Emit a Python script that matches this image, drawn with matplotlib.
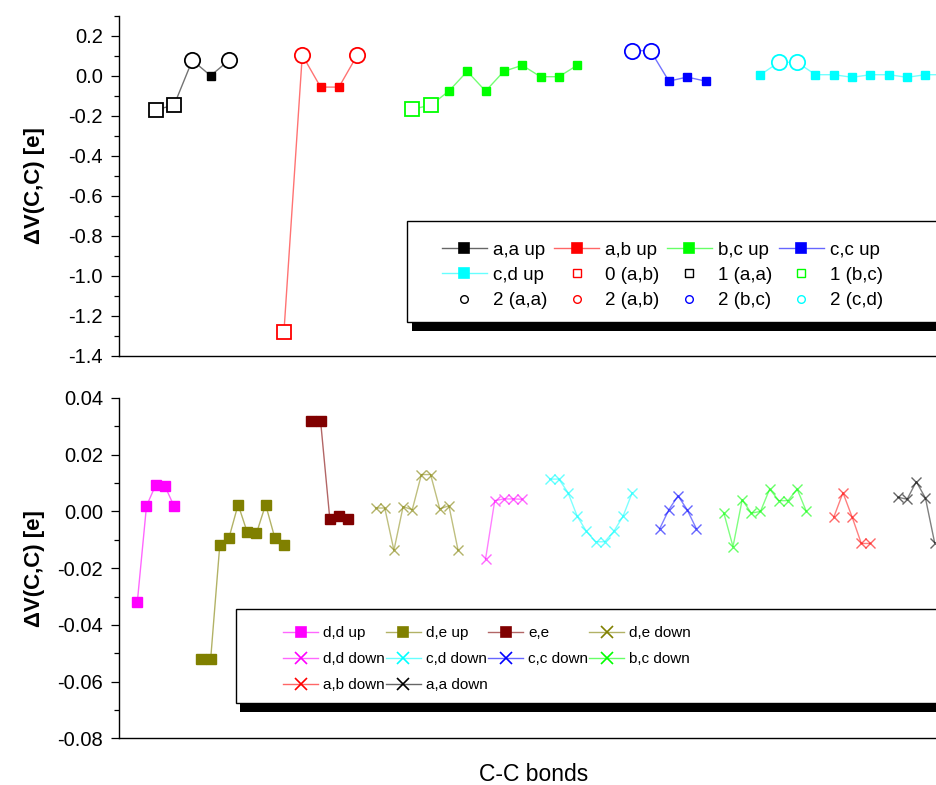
import matplotlib
matplotlib.use("Agg")
import matplotlib.pyplot as plt
from matplotlib.lines import Line2D
from matplotlib.patches import Rectangle
from matplotlib.colors import to_rgba
from matplotlib.ticker import MultipleLocator, FormatStrFormatter

plt.rcParams['font.family'] = ['Liberation Sans', 'DejaVu Sans']
plt.rcParams['axes.unicode_minus'] = False

# ---- top panel: "up" chains (bond index, dV) ----
aa_up_x = [2, 4, 6, 8, 10]
aa_up_y = [-0.170, -0.148, 0.077, 0.000, 0.077]
ab_up_x = [16, 18, 20, 22, 24]
ab_up_y = [-1.280, 0.103, -0.057, -0.057, 0.103]
bc_up_x = [30, 32, 34, 36, 38, 40, 42, 44, 46, 48]
bc_up_y = [-0.167, -0.148, -0.077, 0.022, -0.077, 0.022, 0.052, -0.005, -0.005, 0.052]
cc_up_x = [54, 56, 58, 60, 62]
cc_up_y = [0.125, 0.125, -0.027, -0.007, -0.027]
cd_up_x = [68, 70, 72, 74, 76, 78, 80, 82, 84, 86, 88]
cd_up_y = [0.005, 0.067, 0.067, 0.005, 0.005, -0.008, 0.005, 0.005, -0.008, 0.005, 0.005]

# open symbols
sq0_ab_x, sq0_ab_y = [16], [-1.280]
sq1_aa_x, sq1_aa_y = [2, 4], [-0.170, -0.148]
sq1_bc_x, sq1_bc_y = [30, 32], [-0.167, -0.148]
ci2_aa_x, ci2_aa_y = [6, 10], [0.077, 0.077]
ci2_ab_x, ci2_ab_y = [18, 24], [0.103, 0.103]
ci2_bc_x, ci2_bc_y = [54, 56], [0.125, 0.125]
ci2_cd_x, ci2_cd_y = [70, 72], [0.067, 0.067]

# ---- bottom panel ----
dd_up_x = [0, 1, 2, 3, 4]
dd_up_y = [-0.0319, 0.0019, 0.0093, 0.0090, 0.0019]
de_up_x = [7, 8, 9, 10, 11, 12, 13, 14, 15, 16]
de_up_y = [-0.0522, -0.0522, -0.0118, -0.0093, 0.0024, -0.0074, -0.0077, 0.0024, -0.0093, -0.0118]
ee_x = [19, 20, 21, 22, 23]
ee_y = [0.0320, 0.0318, -0.0025, -0.0017, -0.0028]
de_dn_x = [26, 27, 28, 29, 30, 31, 32, 33, 34, 35]
de_dn_y = [0.0012, 0.0012, -0.0137, 0.0017, 0.0006, 0.0130, 0.0130, 0.0009, 0.0020, -0.0137]
dd_dn_x = [38, 39, 40, 41, 42]
dd_dn_y = [-0.0168, 0.0038, 0.0044, 0.0044, 0.0043]
cd_dn_x = [45, 46, 47, 48, 49, 50, 51, 52, 53, 54]
cd_dn_y = [0.0114, 0.0114, 0.0066, -0.0017, -0.0070, -0.0107, -0.0107, -0.0070, -0.0017, 0.0066]
cc_dn_x = [57, 58, 59, 60, 61]
cc_dn_y = [-0.0061, 0.0006, 0.0055, 0.0006, -0.0061]
bc_dn_x = [64, 65, 66, 67, 68, 69, 70, 71, 72, 73]
bc_dn_y = [-0.0006, -0.0124, 0.0041, -0.0006, 0.0000, 0.0079, 0.0038, 0.0038, 0.0079, 0.0000]
ab_dn_x = [76, 77, 78, 79, 80]
ab_dn_y = [-0.0020, 0.0066, -0.0020, -0.0113, -0.0113]
aa_dn_x = [83, 84, 85, 86, 87]
aa_dn_y = [0.0050, 0.0043, 0.0105, 0.0047, -0.0110]

BLACK, RED, GREEN, BLUE, CYAN = '#000000', '#ff0000', '#00ff00', '#0000ff', '#00ffff'
MAGENTA, OLIVE, WINE = '#ff00ff', '#808000', '#800000'


def style_axis(ax, ylim, major, minor, fmt):
    ax.set_xlim(-2, 87.7)
    ax.set_ylim(*ylim)
    ax.yaxis.set_major_locator(MultipleLocator(major))
    ax.yaxis.set_minor_locator(MultipleLocator(minor))
    ax.yaxis.set_major_formatter(FormatStrFormatter(fmt))
    ax.set_xticks([])
    for s in ('top', 'right'):
        ax.spines[s].set_visible(False)
    for s in ('left', 'bottom'):
        ax.spines[s].set_linewidth(1.0)
    ax.tick_params(axis='y', which='major', direction='out', length=6, width=0.9,
                   pad=5.5, labelsize=14.5)
    ax.tick_params(axis='y', which='minor', direction='out', length=3.6, width=0.9)
    ax.set_ylabel('ΔV(C,C) [e]', fontsize=16, fontweight='bold')
    ax.yaxis.set_label_coords(-0.09, 0.5)


fig = plt.figure(figsize=(9.37, 7.85), dpi=100)
ax1 = fig.add_axes([0.127, 0.5469, 0.8773, 0.4331])
ax2 = fig.add_axes([0.127, 0.0595, 0.8773, 0.4335])

# top panel
for x, y, c in [(aa_up_x, aa_up_y, BLACK), (ab_up_x, ab_up_y, RED), (bc_up_x, bc_up_y, GREEN),
                (cc_up_x, cc_up_y, BLUE), (cd_up_x, cd_up_y, CYAN)]:
    ax1.plot(x, y, color=to_rgba(c, 0.55), lw=1.0, marker='s', ms=5.2, mfc=c, mec=c, zorder=2)

for x, y, c in [(sq0_ab_x, sq0_ab_y, RED), (sq1_aa_x, sq1_aa_y, BLACK), (sq1_bc_x, sq1_bc_y, GREEN)]:
    ax1.plot(x, y, ls='none', marker='s', ms=10.5, mfc='white', mec=c, mew=1.3, zorder=3)
for x, y, c in [(ci2_aa_x, ci2_aa_y, BLACK), (ci2_ab_x, ci2_ab_y, RED),
                (ci2_bc_x, ci2_bc_y, BLUE), (ci2_cd_x, ci2_cd_y, CYAN)]:
    ax1.plot(x, y, ls='none', marker='o', ms=11, mfc='white', mec=c, mew=1.3, zorder=3)

style_axis(ax1, (-1.4, 0.3), 0.2, 0.1, '%.1f')

# bottom panel
for x, y, c in [(dd_up_x, dd_up_y, MAGENTA), (de_up_x, de_up_y, OLIVE), (ee_x, ee_y, WINE)]:
    ax2.plot(x, y, color=to_rgba(c, 0.6), lw=1.0, marker='s', ms=6.5, mfc=c, mec=c, zorder=2)

down = [(de_dn_x, de_dn_y, OLIVE), (dd_dn_x, dd_dn_y, MAGENTA), (cd_dn_x, cd_dn_y, CYAN),
        (cc_dn_x, cc_dn_y, BLUE), (bc_dn_x, bc_dn_y, GREEN), (ab_dn_x, ab_dn_y, RED),
        (aa_dn_x, aa_dn_y, BLACK)]
for x, y, c in down:
    ax2.plot(x, y, color=to_rgba(c, 0.5), lw=1.0, marker='x', ms=7.5, mew=1.0,
             mec=to_rgba(c, 0.6), zorder=2)

style_axis(ax2, (-0.08, 0.04), 0.02, 0.01, '%.2f')

fig.text(0.569, 0.0051, 'C-C bonds', fontsize=16.5, ha='center', va='baseline')


# legend frames with Origin-style shadow
def frame(x0, y0, w, h, dx, dy):
    fig.add_artist(Rectangle((x0 + dx, y0 - dy), w, h, transform=fig.transFigure,
                             fc='black', ec='none', zorder=3))
    fig.add_artist(Rectangle((x0, y0), w, h, transform=fig.transFigure,
                             fc='white', ec='black', lw=1.0, zorder=3.1))


frame(0.4347, 0.5894, 0.6, 0.1294, 0.0053, 0.0111)
frame(0.2515, 0.1041, 0.8, 0.1201, 0.0046, 0.0107)


def line_h(c, m, ms, full=True):
    return Line2D([], [], color=to_rgba(c, 0.6), lw=1.0, marker=m, ms=ms,
                  mfc=c if full else 'none', mec=c, mew=1.2)


def open_h(c, m):
    return Line2D([], [], ls='none', marker=m, ms=5.5, mfc='none', mec=c, mew=1.0)


top_items = [
    (line_h(BLACK, 's', 7.5), 'a,a up'), (line_h(CYAN, 's', 7.5), 'c,d up'), (open_h(BLACK, 'o'), '2 (a,a)'),
    (line_h(RED, 's', 7.5), 'a,b up'), (open_h(RED, 's'), '0 (a,b)'), (open_h(RED, 'o'), '2 (a,b)'),
    (line_h(GREEN, 's', 7.5), 'b,c up'), (open_h(BLACK, 's'), '1 (a,a)'), (open_h(BLUE, 'o'), '2 (b,c)'),
    (line_h(BLUE, 's', 7.5), 'c,c up'), (open_h(GREEN, 's'), '1 (b,c)'), (open_h(CYAN, 'o'), '2 (c,d)'),
]
fig.legend([h for h, _ in top_items], [l for _, l in top_items], loc='upper left',
           bbox_to_anchor=(0.4714, 0.6924), ncol=4, frameon=False, fontsize=13.5,
           handlelength=2.4, handletextpad=0.33, columnspacing=0.37, labelspacing=0.44,
           borderpad=0, borderaxespad=0)

bot_items = [
    (line_h(MAGENTA, 's', 6.5), 'd,d up'), (line_h(MAGENTA, 'x', 9), 'd,d down'), (line_h(RED, 'x', 9), 'a,b down'),
    (line_h(OLIVE, 's', 6.5), 'd,e up'), (line_h(CYAN, 'x', 9), 'c,d down'), (line_h(BLACK, 'x', 9), 'a,a down'),
    (line_h(WINE, 's', 6.5), 'e,e'), (line_h(BLUE, 'x', 9), 'c,c down'),
    (line_h(OLIVE, 'x', 9), 'd,e down'), (line_h(GREEN, 'x', 9), 'b,c down'),
]
fig.legend([h for h, _ in bot_items], [l for _, l in bot_items], loc='upper left',
           bbox_to_anchor=(0.3023, 0.2026), ncol=4, frameon=False, fontsize=11,
           handlelength=2.3, handletextpad=0.3, columnspacing=0.07, labelspacing=0.8,
           borderpad=0, borderaxespad=0)

fig.savefig('out.png', dpi=100)
